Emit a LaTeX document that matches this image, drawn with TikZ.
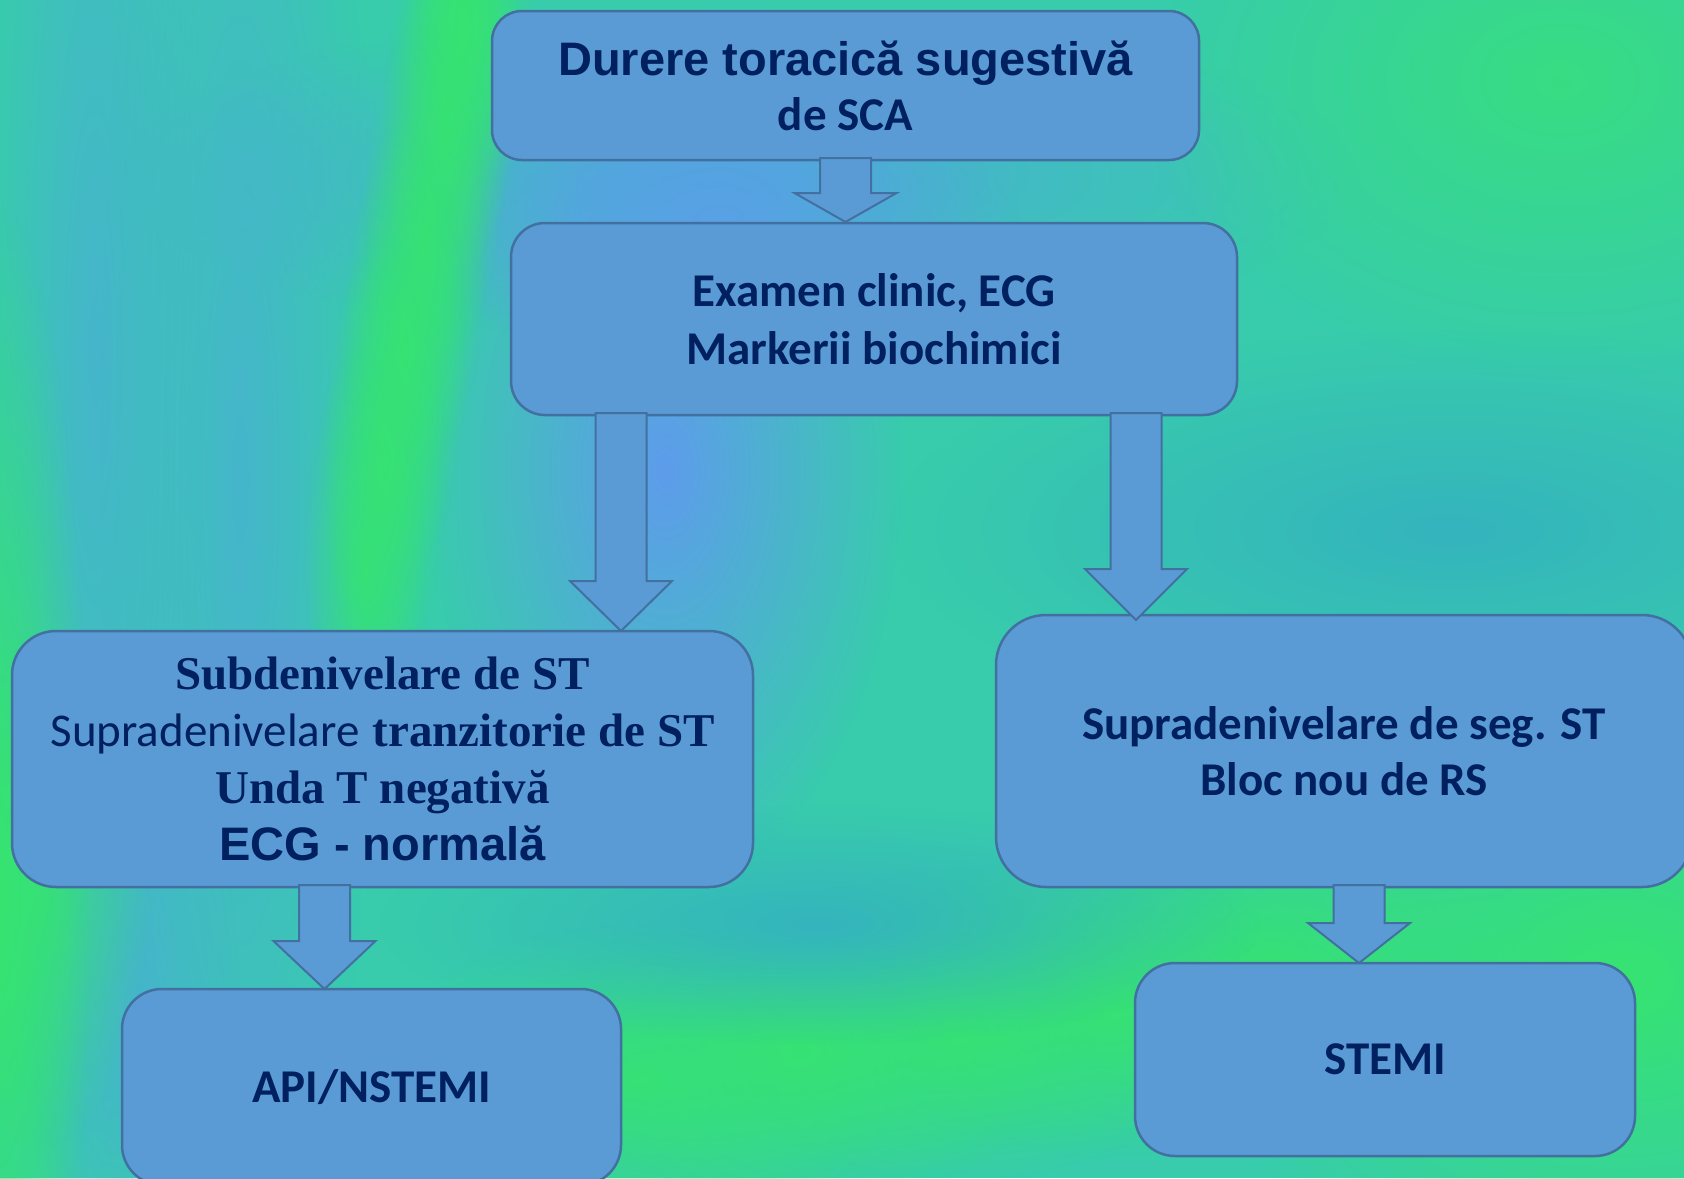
\documentclass[tikz,border=0pt]{standalone}
\usepackage{fontspec}
\setmainfont{Liberation Sans}
\newfontfamily\arialfont{Liberation Sans}
\newfontfamily\calfont{Carlito}
\newfontfamily\timesfont{Liberation Serif}
\usetikzlibrary{calc,fadings}

\definecolor{boxfill}{RGB}{91,155,213}
\definecolor{boxline}{RGB}{66,112,160}
\definecolor{navy}{RGB}{0,32,96}
\definecolor{bgbase}{RGB}{56,204,172}
\definecolor{bggreen}{RGB}{54,228,112}
\definecolor{bgblue}{RGB}{94,156,236}
\definecolor{bgcyan}{RGB}{74,174,214}
\definecolor{bgteal}{RGB}{52,180,190}

% soft round spot
\tikzfading[name=softblob, inner color=transparent!0, outer color=transparent!100]

\tikzset{
  blob/.style={fill=#1, path fading=softblob},
  stepbox/.style={draw=boxline, fill=boxfill, line width=2.5pt,
    rounded corners=#1, inner sep=0pt, outer sep=0pt, align=center,
    text=navy, font=\fontsize{47}{57}\selectfont},
  stepbox/.default=36pt,
  blockarrow/.style={draw=boxline, fill=boxfill, line width=2pt, line join=miter,
    to path={let \p1=(\tikztostart), \p2=(\tikztotarget) in
      (\x1-25.5pt,\y1) -- (\x1-25.5pt,\y2+#1) -- (\x1-51pt,\y2+#1) -- (\x1,\y2)
      -- (\x1+51pt,\y2+#1) -- (\x1+25.5pt,\y2+#1) -- (\x1+25.5pt,\y1) -- cycle}},
}

\begin{document}
\begin{tikzpicture}[x=1pt,y=-1pt]
\useasboundingbox (0,0) rectangle (1684,1178);
\clip (0,0) rectangle (1684,1178);

% backdrop: teal base with soft green and blue streaks
\fill[bgbase] (0,0) rectangle (1684,1178);
\fill[blob=bgcyan] (740,175) ellipse (620 and 170);
\fill[blob=bgcyan, fill opacity=0.75] (95,350) ellipse (110 and 900);
\fill[blob=bgcyan, fill opacity=0.75] (240,480) ellipse (140 and 1000);
\fill[blob=bgcyan, fill opacity=0.75] (130,1000) ellipse (110 and 300);
\fill[blob=bgblue] (665,470) ellipse (240 and 420);
\fill[blob=bgblue!70!bgcyan] (720,220) ellipse (300 and 160);
% bright diagonal green streak
\foreach \cx/\cy in {475/-40,462/40,445/130,425/240,405/350,385/460,365/570}
  \fill[blob=bggreen, fill opacity=0.85] (\cx,\cy) ellipse (62 and 230);
% green along the left border
\fill[blob=bggreen] (0,900) ellipse (90 and 700);
\fill[blob=bggreen, fill opacity=0.8] (40,890) ellipse (110 and 260);
% green bands near the bottom
\foreach \cx/\cy in {640/1080,800/1050,960/1025,1120/1000,1280/975}
  \fill[blob=bggreen, fill opacity=0.85] (\cx,\cy) ellipse (260 and 160);
\fill[blob=bggreen] (1620,980) ellipse (440 and 320);
\fill[blob=bggreen!70!bgbase] (1560,80) ellipse (420 and 300);
\fill[blob=bgteal] (1450,530) ellipse (560 and 200);
\fill[blob=bgteal] (820,925) ellipse (440 and 120);

% boxes
\node[stepbox=30pt, minimum width=707pt, minimum height=149pt,
  font=\fontsize{47}{55}\selectfont\bfseries]
  (b1) at (845.5,85.5) {{\arialfont Durere toracică sugestivă}\\{\calfont de SCA}};
\node[stepbox=34pt, minimum width=726pt, minimum height=192pt,
  font=\fontsize{47}{58}\selectfont\calfont\bfseries]
  (b2) at (874,319) {Examen clinic, ECG\\Markerii biochimici};
\node[stepbox=44pt, minimum width=741pt, minimum height=256pt]
  (b3) at (382.5,759) {{\timesfont\bfseries Subdenivelare de ST}\\
  {\calfont Supradenivelare} {\timesfont\bfseries tranzitorie de ST}\\
  {\timesfont\bfseries Unda T negativă}\\
  {\arialfont\bfseries ECG - normală}};
\node[stepbox=50pt, minimum width=696pt, minimum height=272pt,
  font=\fontsize{47}{56}\selectfont\calfont\bfseries]
  (b4) at (1344,751) {Supradenivelare de seg. ST\\Bloc nou de RS};
\node[stepbox=40pt, minimum width=499pt, minimum height=196pt,
  font=\fontsize{47}{57}\selectfont\calfont\bfseries]
  (b5) at (371.5,1087) {API/NSTEMI};
\node[stepbox=40pt, minimum width=500pt, minimum height=193pt,
  font=\fontsize{47}{57}\selectfont\calfont\bfseries]
  (b6) at (1385,1059.5) {STEMI};

% arrow columns
\coordinate (c2) at (621,0);
\coordinate (c3) at (1136,0);
\coordinate (c4) at (324.5,0);
\coordinate (c5) at (1359,0);

% block arrows
\draw[blockarrow=29pt] ($(b1.south)+(0,-2)$) to ($(b1.south |- b2.north)+(0,-1)$);
\draw[blockarrow=50pt] ($(b2.south -| c2)+(0,-2)$) to (b3.north -| c2);
\draw[blockarrow=51pt] ($(b2.south -| c3)+(0,-2)$) to ($(b4.north -| c3)+(0,5)$);
\draw[blockarrow=48pt] ($(b3.south -| c4)+(0,-2)$) to (b5.north -| c4);
\draw[blockarrow=40pt] ($(b4.south -| c5)+(0,-2)$) to (b6.north -| c5);
\end{tikzpicture}
\end{document}
